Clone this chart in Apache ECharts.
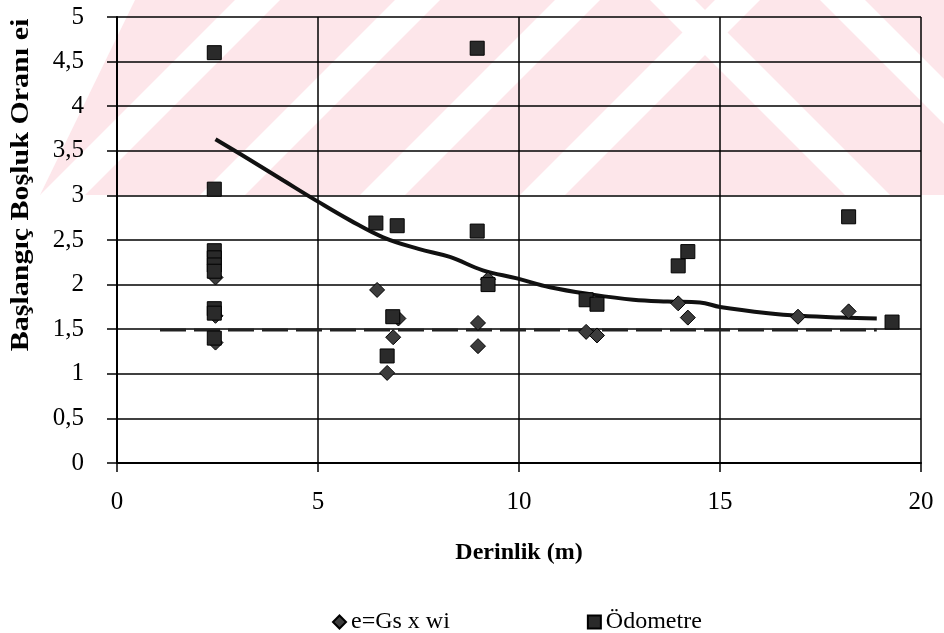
<!DOCTYPE html>
<html><head><meta charset="utf-8">
<script src="https://cdn.jsdelivr.net/npm/echarts@6/dist/echarts.min.js"></script>
<style>html,body{margin:0;padding:0;background:#fff}#c{width:944px;height:633px}</style>
</head><body><div id="c"></div>
<script>
// Data
const diamondX = [2.45, 2.45, 2.45, 6.47, 7.0, 6.87, 6.72, 8.98, 8.98, 9.23, 11.67, 11.94, 13.96, 14.2, 16.94, 18.2];
const diamondY = [2.08, 1.65, 1.35, 1.94, 1.62, 1.41, 1.01, 1.57, 1.31, 2.06, 1.47, 1.43, 1.79, 1.63, 1.64, 1.70];
const squareX = [2.42, 2.42, 2.42, 2.42, 2.42, 2.42, 2.42, 2.42, 2.42, 6.44, 6.97, 6.86, 6.72, 8.96, 8.96, 9.23, 11.67, 11.94, 13.96, 14.2, 18.2, 19.28];
const squareY = [4.60, 3.07, 2.38, 2.30, 2.22, 2.15, 1.73, 1.68, 1.40, 2.69, 2.66, 1.64, 1.20, 4.65, 2.60, 2.00, 1.83, 1.78, 2.21, 2.37, 2.76, 1.58];
const trendX = [2.45, 3.3, 4.13, 5, 5.8, 6.62, 7.5, 8.28, 9.1, 9.95, 10.77, 11.8, 12.84, 13.7, 14.5, 15, 16.2, 17, 18, 18.9];
const trendY = [3.63, 3.40, 3.17, 2.93, 2.72, 2.53, 2.40, 2.31, 2.16, 2.07, 1.97, 1.89, 1.83, 1.81, 1.80, 1.75, 1.68, 1.65, 1.63, 1.62];
const dashX = [1.07, 18.9];
const dashY = [1.49, 1.49];
const xTicks = [0, 5, 10, 15, 20];
const seriesNames = ['e=Gs x wi', 'Ödometre'];
const xTitle = 'Derinlik (m)';
const yTitle = 'Başlangıç Boşluk Oranı ei';

const zip = (a, b) => a.map((v, i) => [v, b[i]]);
const FONT = '"Liberation Serif", "Times New Roman", serif';

// watermark-like background band
const wm = [];
wm.push({type:'rect', shape:{x:40,y:0,width:904,height:195}, style:{fill:'#fde6ea'}, z:-10, silent:true});
wm.push({type:'polygon', shape:{points:[[0,0],[135,0],[40,195],[0,195]]}, style:{fill:'#fff'}, z:-9, silent:true});
[40, 200, 360, 520].forEach(b => {
  wm.push({type:'polygon', shape:{points:[[b,195],[b+45,195],[b+45+195,0],[b+195,0]]}, style:{fill:'#fff'}, z:-9, silent:true});
});
[650, 820].forEach(t => {
  wm.push({type:'polygon', shape:{points:[[t,0],[t+45,0],[t+45+195,195],[t+195,195]]}, style:{fill:'#fff'}, z:-9, silent:true});
});
wm.push({type:'text', x:22, y:185, rotation:Math.PI/2, scaleX:1.2, silent:true,
  style:{text:yTitle, font:'bold 25px ' + FONT, fill:'#000', align:'center', verticalAlign:'middle'}});

const chart = echarts.init(document.getElementById('c'), null, {renderer:'canvas'});
chart.setOption({
  animation:false,
  backgroundColor:'#fff',
  graphic:{elements:wm},
  grid:{left:117, right:23, top:17, bottom:170, containLabel:false},
  xAxis:{type:'value', min:0, max:20, interval:5,
    name:xTitle, nameLocation:'middle', nameGap:78,
    nameTextStyle:{fontFamily:FONT, fontWeight:'bold', fontSize:24, color:'#000'},
    axisLine:{show:true, onZero:false, lineStyle:{color:'#000', width:2}},
    axisTick:{show:true, length:9, lineStyle:{color:'#000', width:1.5}},
    axisLabel:{fontFamily:FONT, fontSize:25, color:'#000', margin:27,
      formatter:v => xTicks.includes(v) ? String(v) : ''},
    splitLine:{show:true, lineStyle:{color:'#000', width:1.5}}
  },
  yAxis:{type:'value', min:0, max:5, interval:0.5,
    axisLine:{show:true, onZero:false, lineStyle:{color:'#000', width:2}},
    axisTick:{show:true, length:10, lineStyle:{color:'#000', width:1.5}},
    axisLabel:{fontFamily:FONT, fontSize:25, color:'#000', margin:33,
      formatter:v => String(v).replace('.', ',')},
    splitLine:{show:true, lineStyle:{color:'#000', width:1.5}}
  },
  legend:{data:[{name:seriesNames[0], icon:'diamond'},{name:seriesNames[1], icon:'rect'}],
    left:327, top:605, itemWidth:13, itemHeight:13, itemGap:137,
    textStyle:{fontFamily:FONT, fontSize:24, color:'#000'}},
  series:[
    {name:'dash', type:'line', data:zip(dashX, dashY), symbol:'none', silent:true,
      lineStyle:{color:'#222', width:3, type:[26,8]}, z:2},
    {name:'trend', type:'line', data:zip(trendX, trendY), symbol:'none', smooth:0.4, silent:true,
      lineStyle:{color:'#111', width:4}, z:2},
    {name:seriesNames[0], type:'scatter', data:zip(diamondX, diamondY), symbol:'diamond', symbolSize:15,
      itemStyle:{color:'#3c3c3c', borderColor:'#000', borderWidth:1, opacity:1}, z:3},
    {name:seriesNames[1], type:'scatter', data:zip(squareX, squareY), symbol:'rect', symbolSize:14,
      itemStyle:{color:'#2a2a2a', borderColor:'#000', borderWidth:1, opacity:1}, z:4}
  ]
});
</script></body></html>
